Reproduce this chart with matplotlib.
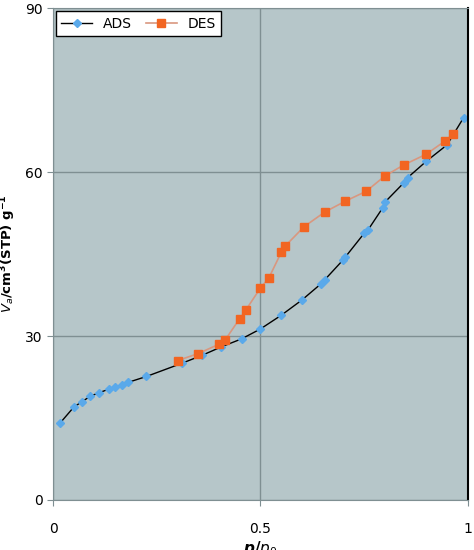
import matplotlib.pyplot as plt

# adsorption branch
ads_x = [0.016, 0.05, 0.07, 0.09, 0.11, 0.135, 0.15, 0.165, 0.18, 0.225, 0.31, 0.36, 0.405,
         0.455, 0.5, 0.55, 0.6, 0.645, 0.655, 0.7, 0.705, 0.75, 0.76, 0.795, 0.80, 0.845,
         0.855, 0.9, 0.95, 0.99]
ads_y = [14, 17, 18, 19, 19.6, 20.3, 20.7, 21, 21.5, 22.6, 25, 26.5, 28,
         29.5, 31.3, 33.8, 36.6, 39.5, 40.3, 44, 44.5, 48.8, 49.5, 53.5, 54.5, 58,
         59, 62, 65, 70]
# desorption branch
des_x = [0.3, 0.35, 0.4, 0.415, 0.45, 0.465, 0.5, 0.52, 0.55, 0.56, 0.605, 0.655, 0.705,
         0.755, 0.8, 0.845, 0.9, 0.945, 0.965]
des_y = [25.5, 26.8, 28.5, 29.3, 33.2, 34.8, 38.8, 40.6, 45.3, 46.5, 50, 52.7, 54.7,
         56.5, 59.3, 61.3, 63.3, 65.7, 67]

fig = plt.figure(figsize=(4.74, 5.5), dpi=100)
ax = fig.add_axes([0.112, 0.091, 0.875, 0.894])
ax.set_facecolor('#b6c6c9')

ax.plot(ads_x, ads_y, '-', color='black', lw=1, marker='D', ms=4,
        mfc='#5aa9ea', mec='#5aa9ea', label='ADS')
ax.plot(des_x, des_y, '-', color='#d9977f', lw=1.2, marker='s', ms=6,
        mfc='#f26522', mec='#f26522', label='DES')

ax.set_xlim(0, 1)
ax.set_ylim(0, 90)
ax.set_xticks([0, 0.5, 1])
ax.set_xticklabels(['0', '0.5', '1'])
ax.set_yticks([0, 30, 60, 90])
ax.grid(True, color='#7f8f92', lw=1)
ax.set_axisbelow(True)
ax.tick_params(labelsize=10, color='#7f8f92', length=4)
ax.tick_params(axis='x', pad=12)
for s in ['top', 'left', 'bottom']:
    ax.spines[s].set_color('#7f8f92')
ax.spines['right'].set_color('black')
ax.spines['right'].set_linewidth(1.5)

ax.set_xlabel(r'$\boldsymbol{p/p_0}$', fontsize=11, labelpad=2)
ax.set_ylabel(r'$\boldsymbol{V_a}$/cm$^{\mathbf{3}}$(STP) g$^{\mathbf{-1}}$', fontsize=9.5, fontweight='bold')
ax.yaxis.set_label_coords(-0.085, 0.5)

leg = ax.legend(loc='upper left', ncol=2, fancybox=False, edgecolor='black',
                fontsize=10, handlelength=2.2, columnspacing=1.0, borderaxespad=0.2)
leg.get_frame().set_facecolor('white')
leg.get_frame().set_alpha(1)

fig.savefig('out.png', dpi=100)
